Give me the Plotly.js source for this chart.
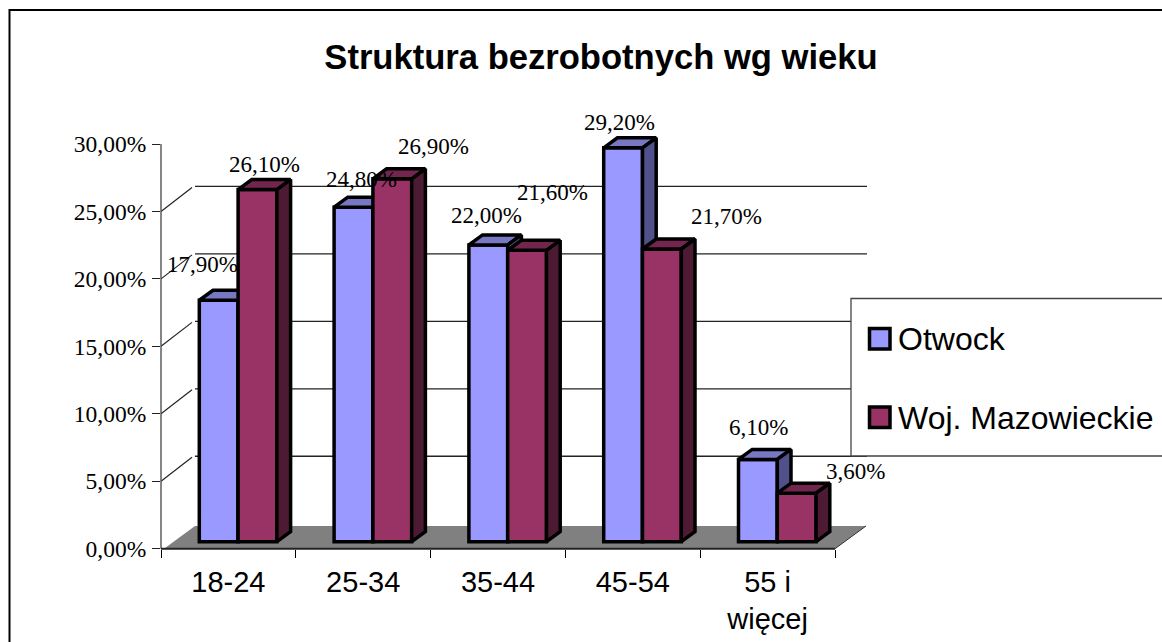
<!DOCTYPE html>
<html><head><meta charset="utf-8">
<script src="https://cdn.plot.ly/plotly-3.0.1.min.js"></script>
<style>html,body{margin:0;padding:0;background:#fff;overflow:hidden}</style>
</head><body><div id="chart" style="width:1162px;height:642px"></div>
<script>
var categories = ['18-24','25-34','35-44','45-54','55 i<br>więcej'];
var otwock = [0.179,0.248,0.22,0.292,0.061];
var mazowieckie = [0.261,0.269,0.216,0.217,0.036];
var seriesNames = ['Otwock','Woj. Mazowieckie'];
var yTicks = [0,0.05,0.10,0.15,0.20,0.25,0.30];

var W=1162,H=642;
var px={l:161,r:835,t:144,b:548.7};
var plotR=885, plotT=120;
var catPx=(px.r-px.l)/5, valPx=(px.b-px.t)/0.30;
function dX(p){return p/catPx;} function dY(p){return p/valPx;}
var idx=categories.map(function(_,i){return i;});
var barW=dX(38.8), off1=dX(199.3-228.4), off2=off1+barW;
var barBase=dY(7), sideX=dX(13.7), sideY=dY(10);
var edge=3.5;
var cols={a:{f:'#9999FF',t:'#7777C2',s:'#50508A'},b:{f:'#993366',t:'#73264D',s:'#4D1A33'}};
function faces(vals,off,kind){
  var xs=[],ys=[];
  vals.forEach(function(v,i){
    var l=i+off,r=l+barW,top=barBase+v;
    if(kind==='t'){xs.push(l,l+sideX,r+sideX,r,l,null);ys.push(top,top+sideY,top+sideY,top,top,null);}
    else{xs.push(r,r+sideX,r+sideX,r,r,null);ys.push(top,top+sideY,barBase+sideY,barBase,top,null);}
  });
  return {x:xs,y:ys};
}
function poly(p,fill,z,w){return {type:'scatter',mode:'lines',x:p.x,y:p.y,fill:'toself',fillcolor:fill,
  line:{color:'#000',width:w===undefined?edge:w,simplify:false},cliponaxis:false,hoverinfo:'skip',showlegend:false,zorder:z};}
function bar(vals,off,c,name,z){return {type:'bar',x:idx,y:vals,base:vals.map(function(){return barBase;}),
  width:barW,offset:off,name:name,marker:{color:c,line:{color:'#000',width:edge}},showlegend:false,zorder:z,cliponaxis:false};}

var gridX=[],gridY=[],diagX=[],diagY=[];
yTicks.slice(1,6).forEach(function(v){
  gridX.push(-0.5+dX(34),4.5+dX(32),null);gridY.push(v+dY(25),v+dY(25),null);
});
yTicks.slice(1,6).forEach(function(v){
  diagX.push(-0.5,-0.5+dX(31),null);diagY.push(v,v+dY(24),null);
});
var floor={x:[-0.5+dX(3),-0.5+dX(34),4.5+dX(31),4.5,-0.5+dX(3)],y:[0,dY(22.7),dY(22.7),0,0]};

var traces=[
 {type:'scatter',mode:'lines',x:gridX,y:gridY,line:{color:'#222',width:1.3},cliponaxis:false,hoverinfo:'skip',showlegend:false,zorder:0},
 {type:'scatter',mode:'lines',x:diagX,y:diagY,line:{color:'#222',width:1.2},cliponaxis:false,hoverinfo:'skip',showlegend:false,zorder:0},
 poly(floor,'#808080',0,0),
 bar(otwock,off1,cols.a.f,seriesNames[0],1),
 poly(faces(otwock,off1,'t'),cols.a.t,2),
 poly(faces(otwock,off1,'s'),cols.a.s,2),
 bar(mazowieckie,off2,cols.b.f,seriesNames[1],3),
 poly(faces(mazowieckie,off2,'t'),cols.b.t,4),
 poly(faces(mazowieckie,off2,'s'),cols.b.s,4)
];

var shiftA=[[-26,42.4],[-1.5,34.4],[-12,36],[-13,32],[-9,38.5]];
var shiftB=[[35.6,32],[70,39],[54,64.5],[94,39.5],[87.4,28.5]];
function fmt(v){return (v*100).toFixed(2).replace('.',',')+'%';}
var anns=[];
function addLabels(vals,sh){vals.forEach(function(v,i){anns.push({x:i,y:v,xref:'x',yref:'y',text:fmt(v),showarrow:false,
  xanchor:'center',yanchor:'middle',xshift:sh[i][0],yshift:sh[i][1],font:{family:'Liberation Serif',size:23,color:'#000'}});});}
addLabels(otwock,shiftA);addLabels(mazowieckie,shiftB);
function pxX(p){return p/W;} function pxY(p){return 1-p/H;}
var legendRows=[[seriesNames[0],cols.a.f,338.5],[seriesNames[1],cols.b.f,417]];
var shapes=[
 {type:'path',xref:'paper',yref:'paper',path:'M'+pxX(1175)+','+pxY(10)+' L'+pxX(9.5)+','+pxY(10)+' L'+pxX(9.5)+','+pxY(655),line:{color:'#000',width:2}},
 {type:'line',xref:'paper',yref:'paper',x0:pxX(px.l),x1:pxX(px.l),y0:pxY(px.b),y1:pxY(px.t),line:{color:'#444',width:1.3},layer:'above'},
 {type:'line',xref:'paper',yref:'paper',x0:pxX(px.l),x1:pxX(px.r),y0:pxY(px.b),y1:pxY(px.b),line:{color:'#222',width:2},layer:'above'},
 {type:'line',xref:'paper',yref:'paper',x0:pxX(px.r),x1:pxX(px.r+31),y0:pxY(px.b),y1:pxY(px.b-22.7),line:{color:'#333',width:1},layer:'above'},
 {type:'rect',xref:'paper',yref:'paper',x0:pxX(851),x1:pxX(1175),y0:pxY(456),y1:pxY(298.5),fillcolor:'#fff',line:{color:'#444',width:1.3},layer:'above'}
];
legendRows.forEach(function(r){
  shapes.push({type:'rect',xref:'paper',yref:'paper',x0:pxX(869.5),x1:pxX(890),y0:pxY(r[2]+10.5),y1:pxY(r[2]-10),fillcolor:r[1],line:{color:'#000',width:edge},layer:'above'});
  anns.push({xref:'paper',yref:'paper',x:pxX(896),y:pxY(r[2]+0.5),text:r[0],showarrow:false,xanchor:'left',yanchor:'middle',font:{family:'Liberation Sans',size:32,color:'#000'}});
});

var layout={width:W,height:H,margin:{l:0,r:0,t:0,b:0,pad:0},paper_bgcolor:'#fff',plot_bgcolor:'rgba(0,0,0,0)',
 separators:', ',showlegend:false,
 title:{text:'<b>Struktura bezrobotnych wg wieku</b>',x:pxX(601),xanchor:'center',y:pxY(57),yanchor:'middle',font:{family:'Liberation Sans',size:34.6,color:'#000'}},
 xaxis:{domain:[pxX(px.l),pxX(plotR)],range:[-0.5,4.5+dX(plotR-px.r)],type:'linear',tickmode:'array',tickvals:idx,ticktext:categories,ticks:'outside',ticklen:0.01,tickcolor:'#000',
   showgrid:false,zeroline:false,showline:false,ticklabelstandoff:7,tickfont:{family:'Liberation Sans',size:29,color:'#000'},
   minor:{tickmode:'array',tickvals:[-0.5,0.5,1.5,2.5,3.5,4.5],ticks:'outside',ticklen:8,tickcolor:'#000',tickwidth:1,showgrid:false}},
 yaxis:{domain:[pxY(px.b),pxY(plotT)],range:[0,0.30+dY(px.t-plotT)],tickmode:'array',tickvals:yTicks,tickformat:'.2%',ticks:'outside',ticklen:8,tickcolor:'#222',tickwidth:1,
   showline:false,showgrid:false,zeroline:false,ticklabelstandoff:1,ticklabelshift:1.5,
   tickfont:{family:'Liberation Serif',size:23.5,color:'#000'}},
 shapes:shapes,annotations:anns};
Plotly.newPlot('chart',traces,layout,{displayModeBar:false,staticPlot:true});
</script></body></html>
